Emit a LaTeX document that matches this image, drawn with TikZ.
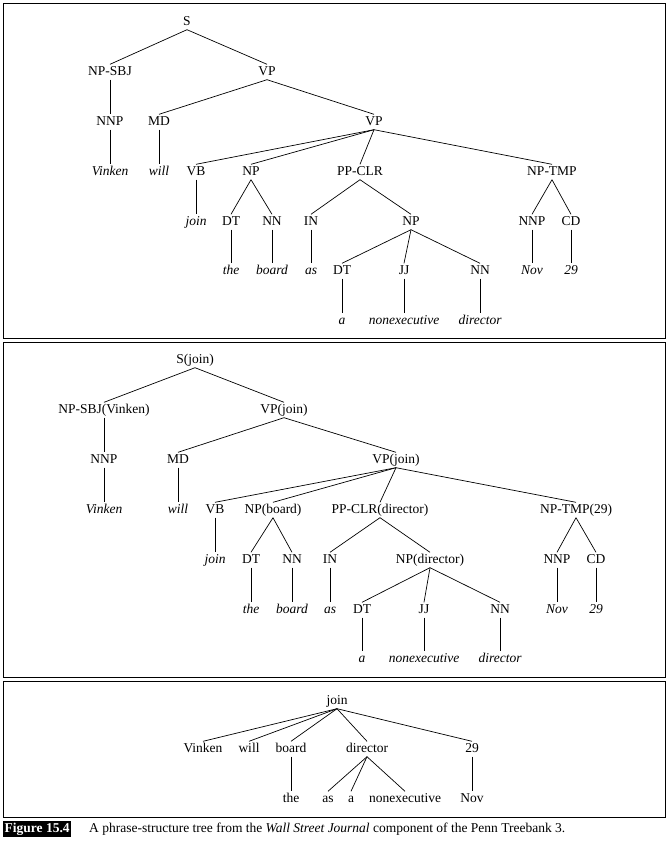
\documentclass[tikz,border=0pt]{standalone}
\usepackage{fontspec}
\setmainfont{Liberation Serif}
\begin{document}
\begin{tikzpicture}[x=1pt,y=-1pt,
  n/.style={inner sep=1.5pt,text height=9.5pt,text depth=2.5pt,font=\fontsize{13.5}{15}\selectfont},
  w/.style={n,font=\fontsize{13.5}{15}\selectfont\itshape},
  r/.style={n},
  e/.style={line width=0.7pt},
  box/.style={draw,line width=0.8pt}]
\useasboundingbox (0,0) rectangle (669,844);
\draw[box] (3,3) rectangle (665,338);
\draw[box] (3,342) rectangle (665,677);
\draw[box] (3,681) rectangle (665,817);
% Tree 1
\node[n] (aS) at (187,22) {S};
\node[n] (aNPS) at (110,72) {NP-SBJ};
\node[n] (aVP1) at (267,72) {VP};
\node[n] (aNNP) at (110,122) {NNP};
\node[n] (aMD) at (159,122) {MD};
\node[n] (aVP2) at (374,122) {VP};
\node[w] (aVinken) at (110,172) {Vinken};
\node[w] (awill) at (159,172) {will};
\node[n] (aVB) at (196,172) {VB};
\node[n] (aNP1) at (251,172) {NP};
\node[n] (aPP) at (360,172) {PP-CLR};
\node[n] (aTMP) at (552,172) {NP-TMP};
\node[w] (ajoin) at (196,222) {join};
\node[n] (aDT1) at (231,222) {DT};
\node[n] (aNN1) at (272,222) {NN};
\node[n] (aIN) at (311,222) {IN};
\node[n] (aNP2) at (411,222) {NP};
\node[n] (aNNP2) at (532,222) {NNP};
\node[n] (aCD) at (571,222) {CD};
\node[w] (athe) at (231,271) {the};
\node[w] (aboard) at (272,271) {board};
\node[w] (aas) at (311,271) {as};
\node[n] (aDT2) at (342,271) {DT};
\node[n] (aJJ) at (404,271) {JJ};
\node[n] (aNN2) at (480,271) {NN};
\node[w] (aNov) at (532,271) {Nov};
\node[w] (a29) at (571,271) {29};
\node[w] (aa) at (342,321) {a};
\node[w] (anonex) at (404,321) {nonexecutive};
\node[w] (adir) at (480,321) {director};
\foreach \p/\c in {aS/aNPS,aS/aVP1,aNPS/aNNP,aVP1/aMD,aVP1/aVP2,aNNP/aVinken,aMD/awill,
  aVP2/aVB,aVP2/aNP1,aVP2/aPP,aVP2/aTMP,aVB/ajoin,aNP1/aDT1,aNP1/aNN1,aPP/aIN,aPP/aNP2,
  aTMP/aNNP2,aTMP/aCD,aDT1/athe,aNN1/aboard,aIN/aas,aNP2/aDT2,aNP2/aJJ,aNP2/aNN2,
  aNNP2/aNov,aCD/a29,aDT2/aa,aJJ/anonex,aNN2/adir}
  \draw[e] (\p.south) -- (\c.north);
% Tree 2
\node[n] (bS) at (195,360) {S(join)};
\node[n] (bNPS) at (104,410) {NP-SBJ(Vinken)};
\node[n] (bVP1) at (284,410) {VP(join)};
\node[n] (bNNP) at (104,460) {NNP};
\node[n] (bMD) at (178,460) {MD};
\node[n] (bVP2) at (396,460) {VP(join)};
\node[w] (bVinken) at (104,510) {Vinken};
\node[w] (bwill) at (178,510) {will};
\node[n] (bVB) at (215,510) {VB};
\node[n] (bNP1) at (273,510) {NP(board)};
\node[n] (bPP) at (380,510) {PP-CLR(director)};
\node[n] (bTMP) at (576,510) {NP-TMP(29)};
\node[w] (bjoin) at (215,560) {join};
\node[n] (bDT1) at (251,560) {DT};
\node[n] (bNN1) at (292,560) {NN};
\node[n] (bIN) at (330,560) {IN};
\node[n] (bNP2) at (430,560) {NP(director)};
\node[n] (bNNP2) at (557,560) {NNP};
\node[n] (bCD) at (596,560) {CD};
\node[w] (bthe) at (251,610) {the};
\node[w] (bboard) at (292,610) {board};
\node[w] (bas) at (330,610) {as};
\node[n] (bDT2) at (362,610) {DT};
\node[n] (bJJ) at (424,610) {JJ};
\node[n] (bNN2) at (500,610) {NN};
\node[w] (bNov) at (557,610) {Nov};
\node[w] (b29) at (596,610) {29};
\node[w] (ba) at (362,659) {a};
\node[w] (bnonex) at (424,659) {nonexecutive};
\node[w] (bdir) at (500,659) {director};
\foreach \p/\c in {bS/bNPS,bS/bVP1,bNPS/bNNP,bVP1/bMD,bVP1/bVP2,bNNP/bVinken,bMD/bwill,
  bVP2/bVB,bVP2/bNP1,bVP2/bPP,bVP2/bTMP,bVB/bjoin,bNP1/bDT1,bNP1/bNN1,bPP/bIN,bPP/bNP2,
  bTMP/bNNP2,bTMP/bCD,bDT1/bthe,bNN1/bboard,bIN/bas,bNP2/bDT2,bNP2/bJJ,bNP2/bNN2,
  bNNP2/bNov,bCD/b29,bDT2/ba,bJJ/bnonex,bNN2/bdir}
  \draw[e] (\p.south) -- (\c.north);
% Tree 3
\node[r] (cjoin) at (337,701) {join};
\node[r] (cVinken) at (203,749) {Vinken};
\node[r] (cwill) at (249,749) {will};
\node[r] (cboard) at (291,749) {board};
\node[r] (cdir) at (367,749) {director};
\node[r] (c29) at (472,749) {29};
\node[r] (cthe) at (291,799) {the};
\node[r] (cas) at (328,799) {as};
\node[r] (ca) at (351,799) {a};
\node[r] (cnonex) at (405,799) {nonexecutive};
\node[r] (cNov) at (472,799) {Nov};
\foreach \p/\c in {cjoin/cVinken,cjoin/cwill,cjoin/cboard,cjoin/cdir,cjoin/c29,
  cboard/cthe,cdir/cas,cdir/ca,cdir/cnonex,c29/cNov}
  \draw[e] (\p.south) -- (\c.north);
% Caption
\node[fill=black,text=white,font=\fontsize{13.5}{15}\selectfont\bfseries,inner sep=1.5pt,anchor=west,text height=10pt,text depth=3pt] (fig) at (3,829) {Figure 15.4};
\node[anchor=west,font=\fontsize{13.5}{15}\selectfont,inner sep=0pt] (cap) at (89,829) {A phrase-structure tree from the \textit{Wall Street Journal} component of the Penn Treebank 3.};
\end{tikzpicture}
\end{document}
